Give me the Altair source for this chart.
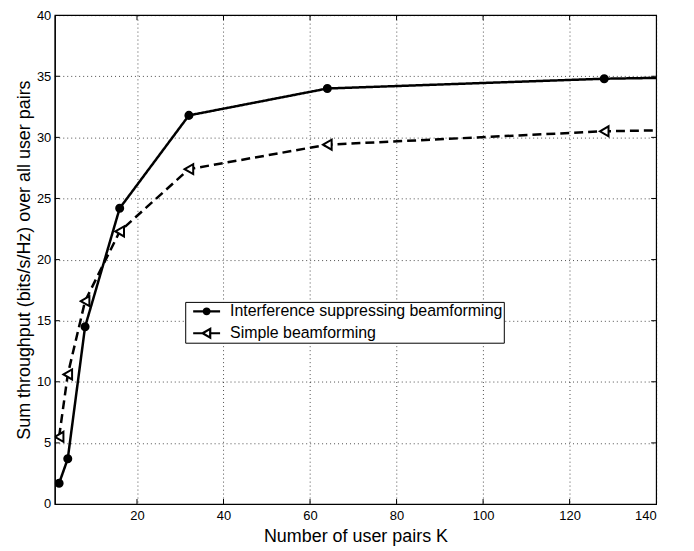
import altair as alt
import pandas as pd

# ---- data ----
K = [2, 4, 8, 16, 32, 64, 128, 256]
isb = [1.7, 3.7, 14.5, 24.2, 31.8, 34.0, 34.8, 35.5]
simple = [5.5, 10.6, 16.6, 22.3, 27.4, 29.4, 30.5, 31.3]
series = ["Interference suppressing beamforming", "Simple beamforming"]
x_ticks = [20, 40, 60, 80, 100, 120, 140]
y_ticks = [0, 5, 10, 15, 20, 25, 30, 35, 40]
x_inner = [20, 40, 60, 80, 100, 120]
y_inner = [5, 10, 15, 20, 25, 30, 35]

W, H = 604, 491
FONT = "Liberation Sans"

df = pd.DataFrame({
    "K": K + K,
    "T": isb + simple,
    "series": [series[0]] * len(K) + [series[1]] * len(K),
})
xt_df = pd.DataFrame({"K": x_inner})
yt_df = pd.DataFrame({"T": y_inner})

xs = alt.X("K:Q", scale=alt.Scale(domain=[1, 140], nice=False, zero=False),
           axis=alt.Axis(values=x_ticks, title="Number of user pairs K"))
ys = alt.Y("T:Q", scale=alt.Scale(domain=[0, 40], nice=False),
           axis=alt.Axis(values=y_ticks,
                         title="Sum throughput (bits/s/Hz) over all user pairs"))

lines = alt.Chart(df).mark_line(clip=True, strokeWidth=2.5, color="black").encode(
    x=xs, y=ys,
    strokeDash=alt.StrokeDash("series:N",
                              scale=alt.Scale(domain=series, range=[[1, 0], [9, 5]]),
                              legend=None),
    detail="series:N",
)

points = alt.Chart(df).mark_point(clip=True, filled=True, stroke="black",
                                  strokeWidth=2, opacity=1).encode(
    x=xs, y=ys,
    shape=alt.Shape("series:N",
                    scale=alt.Scale(domain=series, range=["circle", "triangle-left"]),
                    legend=None),
    fill=alt.Fill("series:N",
                  scale=alt.Scale(domain=series, range=["black", "white"]),
                  legend=None),
    size=alt.Size("series:N", scale=alt.Scale(domain=series, range=[50, 100]),
                  legend=None),
)

# legend glyphs: line segment plus marker (filled dot drawn with concentric strokes)
circ_path = ("M-1.69,0H1.69"
             "M0.36,0A0.36,0.36,0,1,1,-0.36,0A0.36,0.36,0,1,1,0.36,0Z"
             "M0.12,0A0.12,0.12,0,1,1,-0.12,0A0.12,0.12,0,1,1,0.12,0Z")
tri_path = "M-1.69,0H-0.5M0.45,0H1.69M-0.5,0L0.45,-0.55L0.45,0.55Z"

leg = alt.Legend(
    title="\u2002", titleOrient="right", titlePadding=1,
    titleFont=FONT, titleFontSize=16,
    orient="none", legendX=131, legendY=288,
    padding=0, symbolOffset=12, labelOffset=14,
    rowPadding=4, symbolSize=256,
    symbolStrokeWidth=2.2, symbolStrokeColor="black", symbolOpacity=1,
    symbolFillColor="transparent",
    labelFont=FONT, labelFontSize=16, labelColor="black",
    labelLimit=400,
    strokeColor="black", fillColor="white",
)

legend_layer = alt.Chart(df).transform_filter("datum.K < 0").mark_point(
    filled=False, stroke="black", strokeWidth=2.2, opacity=1).encode(
    x=xs, y=ys,
    shape=alt.Shape("series:N",
                    scale=alt.Scale(domain=series, range=[circ_path, tri_path]),
                    legend=leg),
)

tick_b = alt.Chart(xt_df).mark_rule(color="black", strokeWidth=1).encode(
    x=xs, y=alt.value(H), y2=alt.value(H - 5))
tick_t = alt.Chart(xt_df).mark_rule(color="black", strokeWidth=1).encode(
    x=xs, y=alt.value(0), y2=alt.value(5))
tick_l = alt.Chart(yt_df).mark_rule(color="black", strokeWidth=1).encode(
    y=ys, x=alt.value(0), x2=alt.value(5))
tick_r = alt.Chart(yt_df).mark_rule(color="black", strokeWidth=1).encode(
    y=ys, x=alt.value(W), x2=alt.value(W - 5))

chart = alt.layer(tick_b, tick_t, tick_l, tick_r, lines, points, legend_layer).resolve_scale(
    shape="independent"
).properties(
    width=W, height=H,
    autosize=alt.AutoSizeParams(type="none"),
    padding={"left": 47, "top": 6, "right": 30, "bottom": 45},
    background="white",
).configure_view(
    stroke="black", strokeWidth=1.2
).configure_axis(
    grid=True, gridDash=[1, 3], gridColor="#000000", gridOpacity=0.7, gridWidth=1,
    ticks=False, domain=True, domainColor="black", domainWidth=1.2,
    labelFont=FONT, labelFontSize=13, labelColor="black",
    titleFont=FONT, titleFontSize=18, titleFontWeight="normal", titleColor="black",
).configure_axisX(
    labelPadding=6, titlePadding=5,
).configure_axisY(
    labelPadding=4, titlePadding=3,
)

chart.save("out.html", embed_options={"renderer": "svg", "actions": False})
